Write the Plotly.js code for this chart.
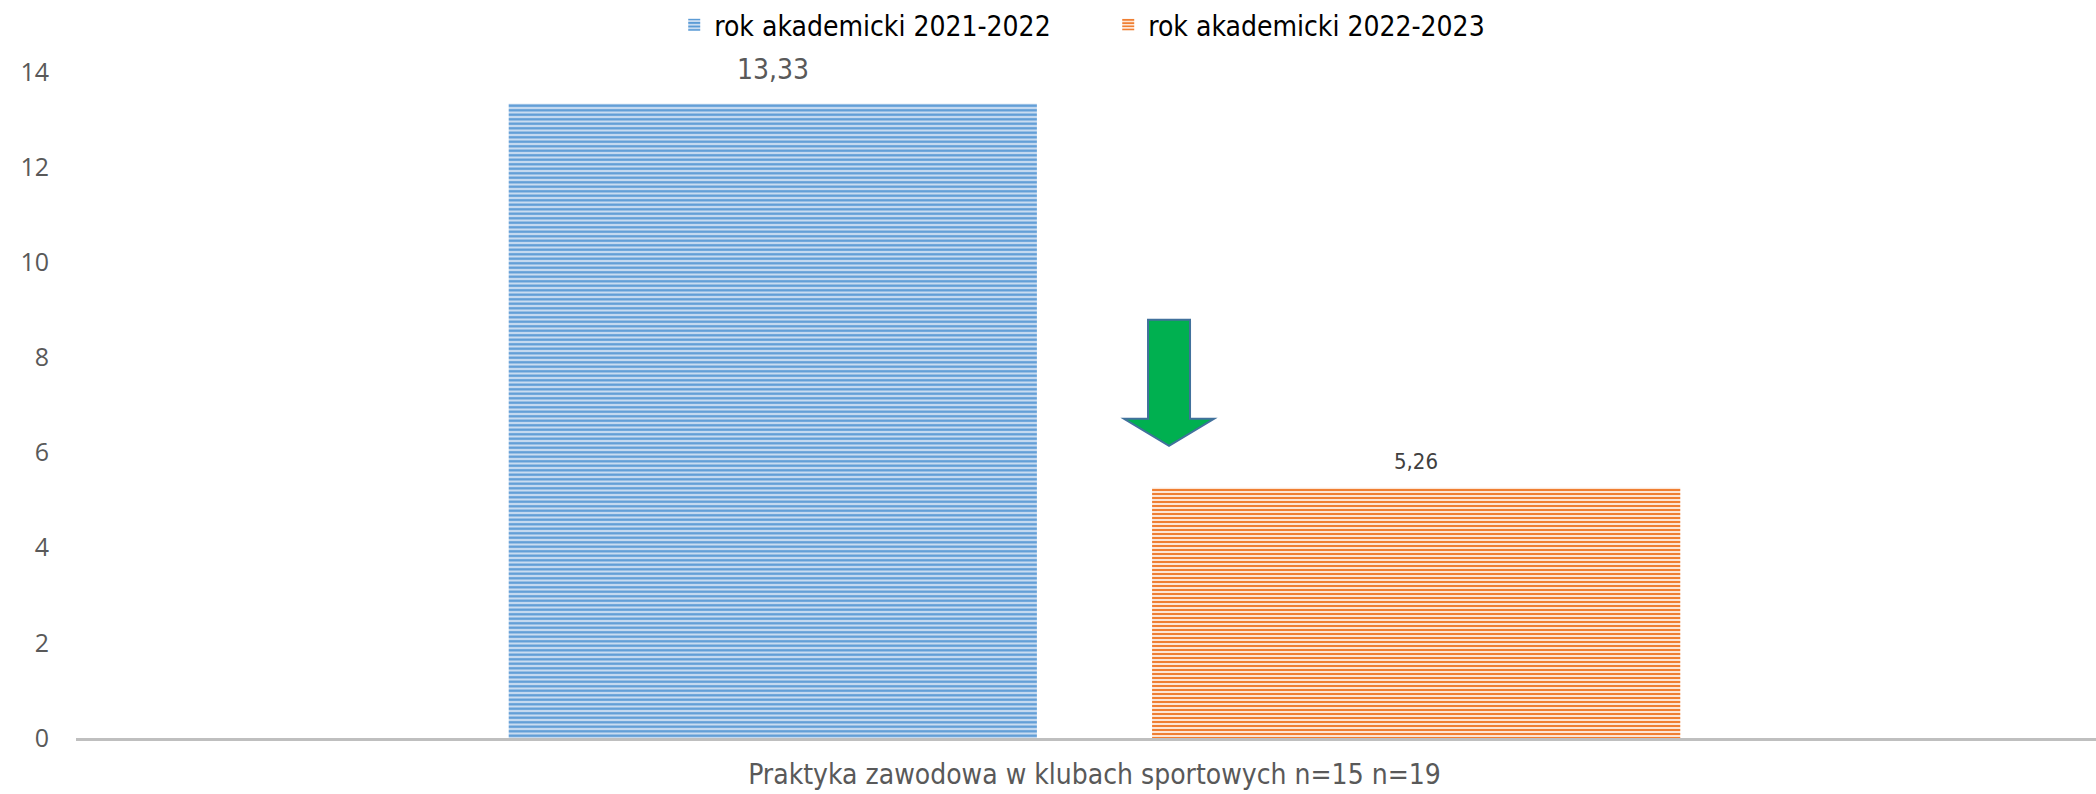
<!DOCTYPE html>
<html>
<head>
<meta charset="utf-8">
<script src="https://cdn.plot.ly/plotly-3.0.1.min.js"></script>
<style>
html,body{margin:0;padding:0;background:#fff;}
#chart{width:2096px;height:794px;}
</style>
</head>
<body>
<div id="chart"></div>
<script>
// ---- data ----
const categories = ["Praktyka zawodowa w klubach sportowych n=15 n=19"];
const seriesNames = ["rok akademicki 2021-2022", "rok akademicki 2022-2023"];
const values2122 = [13.33];
const values2223 = [5.26];
const yTicks = [0, 2, 4, 6, 8, 10, 12, 14];

// ---- style ----
const labelFont = "'Liberation Sans Narrow', 'Arial Narrow', 'DejaVu Sans Condensed', sans-serif";
const bargap = 0.363;
const bargroupgap = 0.179;
const series = [
  {name: seriesNames[0], y: values2122, bg: '#C9DCF1', fg: '#5B9BD5', psize: 4.5, sol: 0.5,
   lblColor: '#595959', lblSize: 28, lblShift: 34},
  {name: seriesNames[1], y: values2223, bg: '#FDE6D6', fg: '#EF7F33', psize: 4, sol: 0.5,
   lblColor: '#404040', lblSize: 22, lblShift: 26}
];

const fmt = v => v.toFixed(2).replace('.', ',');

const traces = series.map(s => ({
  type: 'bar',
  name: s.name,
  x: categories,
  y: s.y,
  marker: {
    color: s.fg,
    line: {width: 0},
    pattern: {shape: '-', bgcolor: s.bg, fgcolor: s.fg, size: s.psize, solidity: s.sol}
  },
  hoverinfo: 'skip'
}));

const slot = (1 - bargap) / series.length;
const annotations = [];
series.forEach((s, i) => {
  s.y.forEach((v, j) => {
    annotations.push({
      xref: 'x', yref: 'y',
      x: j + (i - (series.length - 1) / 2) * slot,
      y: v,
      text: fmt(v),
      showarrow: false,
      yanchor: 'middle',
      yshift: s.lblShift,
      font: {family: labelFont, size: s.lblSize, color: s.lblColor}
    });
  });
});

// decorative down arrow (paper x, data y)
const ax = {l: 0.5188, sl: 0.5307, c: 0.5411, sr: 0.5515, r: 0.5634};
const ay = {top: 8.79, head: 6.71, tip: 6.14};
const arrowPath = `M ${ax.sl} ${ay.top} L ${ax.sr} ${ay.top} L ${ax.sr} ${ay.head} L ${ax.r} ${ay.head} L ${ax.c} ${ay.tip} L ${ax.l} ${ay.head} L ${ax.sl} ${ay.head} Z`;

const layout = {
  width: 2096, height: 794,
  margin: {l: 76, r: 0, t: 72, b: 56},
  paper_bgcolor: '#ffffff', plot_bgcolor: '#ffffff',
  barmode: 'group', bargap: bargap, bargroupgap: bargroupgap,
  showlegend: true,
  legend: {
    orientation: 'h', xref: 'paper', x: 0.511, xanchor: 'center',
    yref: 'container', y: 1.0, yanchor: 'top',
    font: {family: labelFont, size: 28, color: '#000000'},
    itemwidth: 30, traceorder: 'normal',
    entrywidth: 389, entrywidthmode: 'pixels'
  },
  xaxis: {
    type: 'category',
    range: [-0.5042, 0.4958],
    showline: true, linecolor: '#BFBFBF', linewidth: 3,
    showgrid: false, zeroline: false, ticks: '',
    tickfont: {family: labelFont, size: 28, color: '#595959'},
    ticklabelstandoff: 9,
    fixedrange: true
  },
  yaxis: {
    range: [0, 14],
    tickvals: yTicks,
    ticktext: yTicks.map(String),
    showgrid: false, zeroline: false, showline: false, ticks: '',
    tickfont: {family: "'Open Sans', sans-serif", size: 25, color: '#595959'},
    ticklabelstandoff: 26,
    fixedrange: true
  },
  annotations: annotations,
  shapes: [{
    type: 'path', xref: 'paper', yref: 'y', path: arrowPath,
    fillcolor: '#00B050', line: {color: '#41719C', width: 2}
  }]
};

Plotly.newPlot('chart', traces, layout, {staticPlot: true, displayModeBar: false});
</script>
</body>
</html>
